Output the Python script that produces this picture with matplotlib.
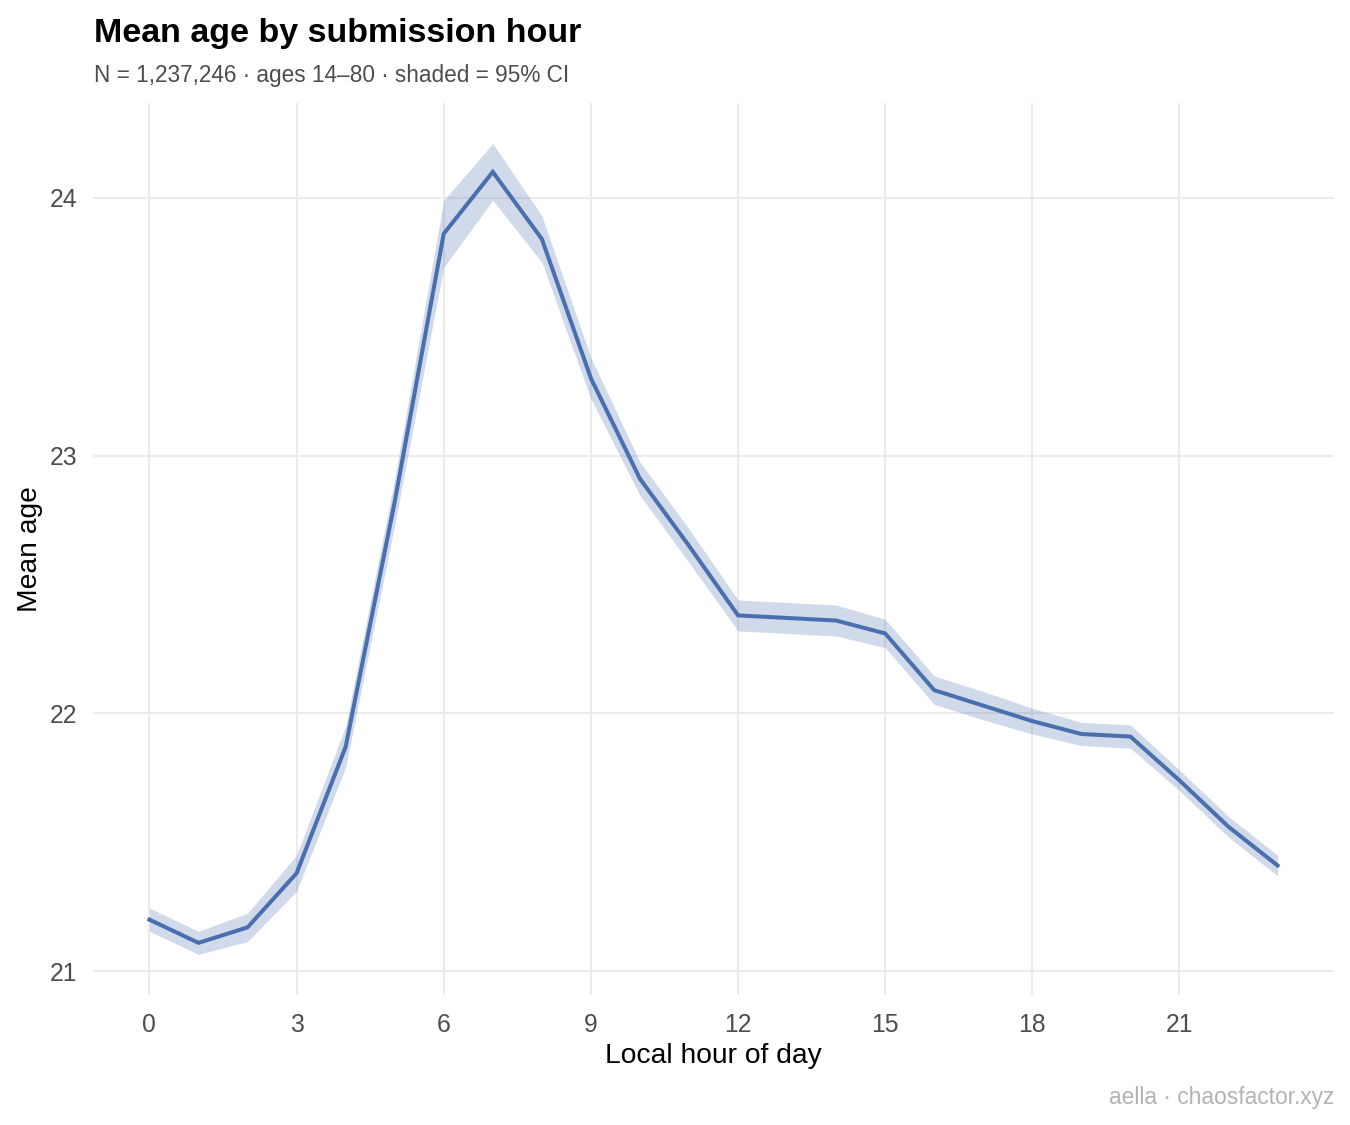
import matplotlib
matplotlib.use("Agg")
import matplotlib.pyplot as plt
import numpy as np

plt.rcParams['font.family'] = ['Liberation Sans', 'DejaVu Sans']

# mean age per local hour
hours = list(range(24))
mean_age = [21.20, 21.11, 21.17, 21.38, 21.87, 22.82, 23.86, 24.10,
            23.84, 23.30, 22.91, 22.65, 22.38, 22.37, 22.36, 22.31,
            22.09, 22.03, 21.97, 21.92, 21.91, 21.74, 21.56, 21.41]
# half width of the 95% CI
ci_half = [0.045, 0.045, 0.055, 0.07, 0.08, 0.09, 0.13, 0.11,
           0.09, 0.08, 0.065, 0.065, 0.06, 0.06, 0.06, 0.055,
           0.055, 0.055, 0.05, 0.045, 0.045, 0.04, 0.04, 0.04]
x_ticks = [0, 3, 6, 9, 12, 15, 18, 21]
y_ticks = [21, 22, 23, 24]

mean = np.array(mean_age)
ci = np.array(ci_half)
lo = mean - ci
hi = mean + ci

blue = '#4a6fae'

fig = plt.figure(figsize=(13.5, 11.25), dpi=100)
ax = fig.add_axes([93/1350, 130/1125, 1241/1350, 892/1125])

ax.fill_between(hours, lo, hi, color=blue, alpha=0.25, linewidth=0)
ax.plot(hours, mean, color=blue, linewidth=2.9, solid_joinstyle='miter')

# ggplot-like 5% expansion
xr = hours[-1] - hours[0]
ax.set_xlim(hours[0] - 0.05 * xr, hours[-1] + 0.05 * xr)
yr = hi.max() - lo.min()
ax.set_ylim(lo.min() - 0.05 * yr, hi.max() + 0.05 * yr)

ax.set_xticks(x_ticks)
ax.set_yticks(y_ticks)
ax.grid(True, color='#ebebeb', linewidth=1.5)
ax.set_axisbelow(True)
for s in ax.spines.values():
    s.set_visible(False)
ax.tick_params(length=0, labelsize=17.8, labelcolor='#4d4d4d')
ax.tick_params(axis='x', pad=13)
ax.tick_params(axis='y', pad=11)

ax.set_xlabel('Local hour of day', fontsize=20.3, labelpad=4)
ax.set_ylabel('Mean age', fontsize=20.3, labelpad=5)

fig.text(94/1350, 1 - 42/1125, 'Mean age by submission hour', fontsize=24.5,
         fontweight='bold', ha='left', va='baseline')
fig.text(94/1350, 1 - 82/1125, 'N = 1,237,246 · ages 14–80 · shaded = 95% CI',
         fontsize=16.3, color='#4d4d4d', ha='left', va='baseline')
fig.text(1334/1350, 1 - 1104/1125, 'aella · chaosfactor.xyz', fontsize=16.4,
         color='#b3b3b3', ha='right', va='baseline')

fig.savefig('out.png', dpi=100, facecolor='white')
